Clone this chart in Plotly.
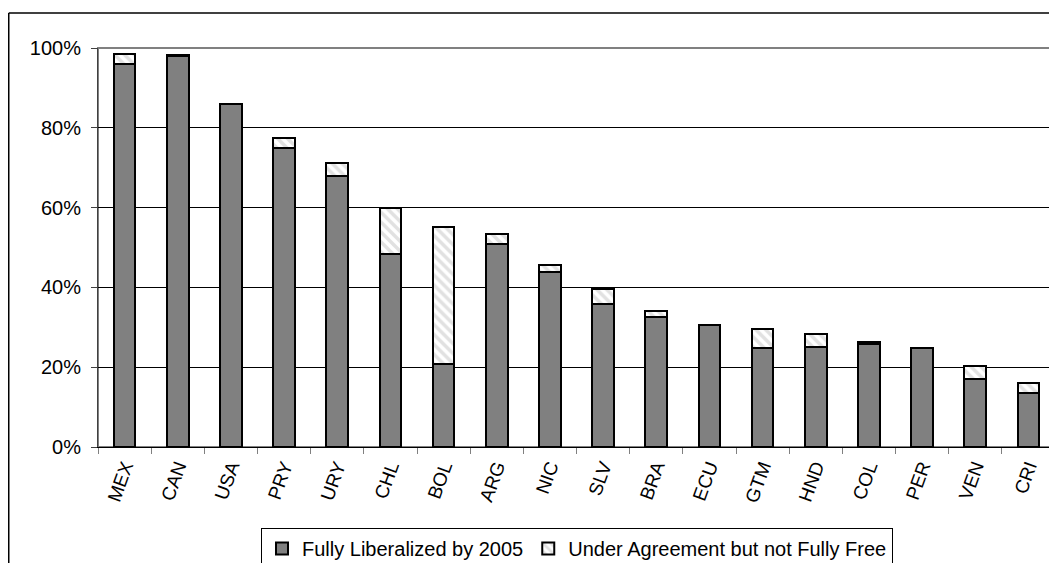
import plotly.graph_objects as go

countries = ["MEX", "CAN", "USA", "PRY", "URY", "CHL", "BOL", "ARG", "NIC",
             "SLV", "BRA", "ECU", "GTM", "HND", "COL", "PER", "VEN", "CRI"]
fully_liberalized = [96.0, 98.0, 86.0, 75.0, 67.8, 48.3, 20.7, 50.8, 43.9,
                     35.8, 32.5, 30.6, 24.9, 25.1, 25.9, 24.9, 17.0, 13.5]
under_agreement = [2.5, 0.3, 0.0, 2.5, 3.5, 11.5, 34.5, 2.7, 1.6,
                   3.8, 1.6, 0.0, 4.8, 3.2, 0.3, 0.0, 3.4, 2.5]
y_ticks = [0, 20, 40, 60, 80, 100]
y_tick_labels = ["0%", "20%", "40%", "60%", "80%", "100%"]

FONT = "Liberation Sans, Arial, sans-serif"

fig = go.Figure()
fig.add_trace(go.Bar(
    x=countries, y=fully_liberalized, name="Fully Liberalized by 2005",
    marker=dict(color="#808080", line=dict(color="black", width=2)),
))
fig.add_trace(go.Bar(
    x=countries, y=under_agreement, name="Under Agreement but not Fully Free",
    marker=dict(color="white", line=dict(color="black", width=2),
                pattern=dict(shape="\\", fgcolor="#c4c4c4", bgcolor="white",
                             size=7, solidity=0.5)),
))

# page has an 8px body margin; work in page pixels and convert
OFF = 8
W, H = 1049, 555
L, R, T, B = 98 - OFF, 2, 48 - OFF, 116
pw, ph = W - L - R, H - T - B

def px_x(p):
    return (p - OFF - L) / pw

def px_y(p):
    return (H - B - (p - OFF)) / ph

fig.update_layout(
    width=W, height=H,
    margin=dict(l=L, r=R, t=T, b=B, autoexpand=False),
    barmode="stack", bargap=0.59,
    paper_bgcolor="white", plot_bgcolor="white",
    font=dict(family=FONT, size=20, color="black"),
    showlegend=True,
    legend=dict(orientation="h", x=px_x(577), xanchor="center",
                y=px_y(528), yanchor="top",
                bordercolor="black", borderwidth=1, bgcolor="white",
                font=dict(size=20), itemsizing="constant",
                traceorder="normal", itemwidth=30),
    xaxis=dict(showline=True, linecolor="black", linewidth=1,
               ticks="outside", ticklen=6, tickcolor="#808080",
               tickson="boundaries", tickangle=-70,
               tickfont=dict(size=19), fixedrange=True),
    yaxis=dict(range=[0, 100], tickvals=y_ticks, ticktext=y_tick_labels,
               showgrid=True, gridcolor="black", gridwidth=1,
               showline=True, linecolor="#404040", linewidth=1,
               ticks="outside", ticklen=6, tickcolor="#404040",
               ticklabelstandoff=6, zeroline=False, fixedrange=True),
    shapes=[
        dict(type="rect", xref="paper", yref="paper", x0=0, x1=1, y0=0, y1=1,
             line=dict(color="#808080", width=2), layer="below"),
        dict(type="line", xref="paper", yref="paper",
             x0=px_x(8.75), x1=px_x(1070), y0=px_y(13), y1=px_y(13),
             line=dict(color="black", width=1.5)),
        dict(type="line", xref="paper", yref="paper",
             x0=px_x(8.75), x1=px_x(8.75), y0=px_y(13), y1=px_y(580),
             line=dict(color="black", width=1.5)),
    ],
)

fig.write_html("out.html")
